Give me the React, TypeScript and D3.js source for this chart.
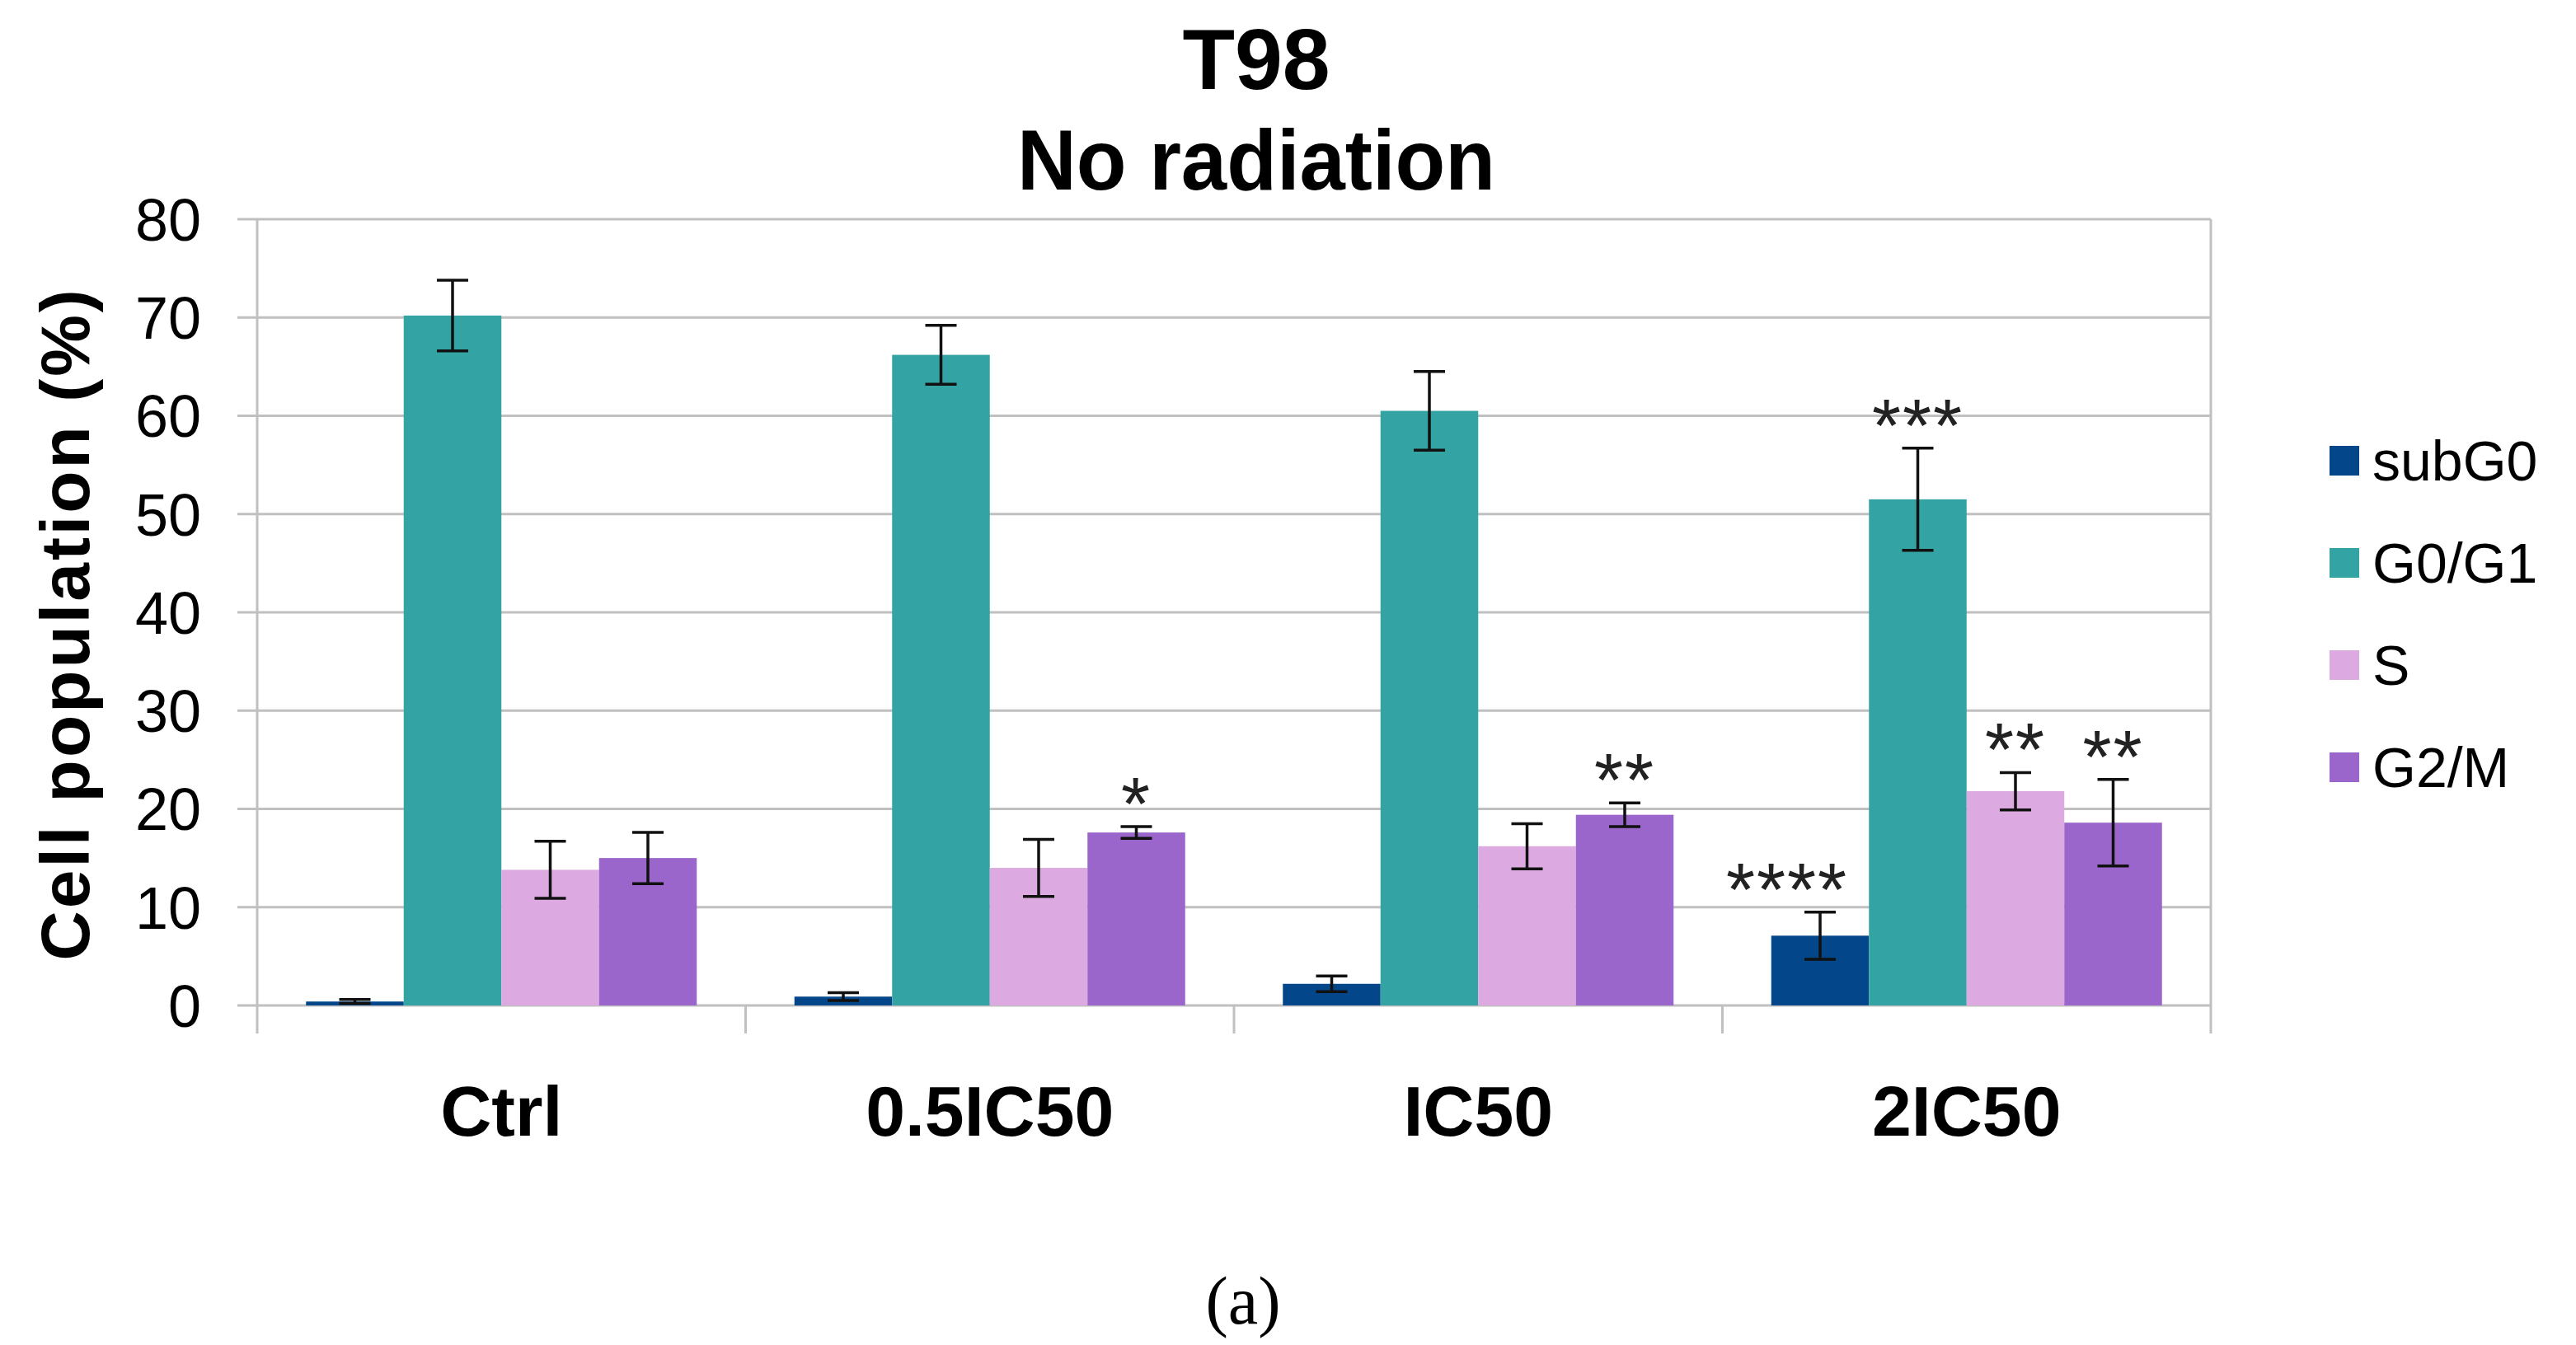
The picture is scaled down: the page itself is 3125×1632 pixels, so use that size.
import React, { useEffect, useRef } from 'react';
import * as d3 from 'd3';

// Cell-cycle distribution, T98, no radiation
const categories = ['Ctrl', '0.5IC50', 'IC50', '2IC50'];
const seriesNames = ['subG0', 'G0/G1', 'S', 'G2/M'];
const seriesColors = ['#03468a', '#33a3a3', '#dcaae0', '#9a66cb'];

const subG0 = [0.4, 0.9, 2.2, 7.1];
const subG0Err = [0.2, 0.4, 0.8, 2.4];
const g0g1 = [70.2, 66.2, 60.5, 51.5];
const g0g1Err = [3.6, 3.0, 4.0, 5.2];
const sPhase = [13.8, 14.0, 16.2, 21.8];
const sPhaseErr = [2.9, 2.9, 2.3, 1.9];
const g2m = [15.0, 17.6, 19.4, 18.6];
const g2mErr = [2.6, 0.6, 1.2, 4.4];

const subG0Stars = ['', '', '', '****'];
const g0g1Stars = ['', '', '', '***'];
const sPhaseStars = ['', '', '', '**'];
const g2mStars = ['', '*', '**', '**'];

const yTicks = [0, 10, 20, 30, 40, 50, 60, 70, 80];

const W = 3125;
const H = 1632;
const FONT = 'Liberation Sans, Arial, sans-serif';

const App: React.FC = () => {
    const svgRef = useRef<SVGSVGElement>(null);

    useEffect(() => {
        const values = [subG0, g0g1, sPhase, g2m];
        const errors = [subG0Err, g0g1Err, sPhaseErr, g2mErr];
        const stars = [subG0Stars, g0g1Stars, sPhaseStars, g2mStars];

        const svg = d3.select(svgRef.current);
        svg.selectAll('*').remove();

        const left = 312, right = 2682, top = 266, bottom = 1220;

        const x0 = d3.scaleBand<string>().domain(categories).range([left, right]).padding(0);
        const bw = x0.bandwidth();
        const x1 = d3.scaleBand<string>().domain(seriesNames).range([bw * 0.1, bw * 0.9]).padding(0);
        const y = d3.scaleLinear().domain([0, 80]).range([bottom, top]);

        const g = svg.append('g');

        // gridlines
        g.selectAll('line.grid')
            .data(yTicks)
            .enter()
            .append('line')
            .attr('x1', left - 24)
            .attr('x2', right)
            .attr('y1', d => y(d))
            .attr('y2', d => y(d))
            .attr('stroke', '#c0c0c0')
            .attr('stroke-width', 3);

        // vertical axis
        g.append('line')
            .attr('x1', left).attr('x2', left)
            .attr('y1', top).attr('y2', bottom + 34)
            .attr('stroke', '#c0c0c0').attr('stroke-width', 3);

        // category boundary ticks (last one doubles as right border)
        const bounds = categories.map(c => x0(c) as number).concat([right]);
        g.selectAll('line.ctick')
            .data(bounds.slice(1))
            .enter()
            .append('line')
            .attr('x1', d => d).attr('x2', d => d)
            .attr('y1', (d, i) => (i === bounds.length - 2 ? top : bottom))
            .attr('y2', bottom + 34)
            .attr('stroke', '#c0c0c0').attr('stroke-width', 3);

        // y tick labels
        g.selectAll('text.ytick')
            .data(yTicks)
            .enter()
            .append('text')
            .attr('x', 244)
            .attr('y', d => y(d))
            .attr('dy', '0.36em')
            .attr('text-anchor', 'end')
            .attr('font-family', FONT)
            .attr('font-size', 72)
            .attr('fill', '#000')
            .text(d => d);

        // bars, error bars, stars
        seriesNames.forEach((name, si) => {
            const sg = g.append('g');
            const bx = (i: number) => (x0(categories[i]) as number) + (x1(name) as number);
            const cx = (i: number) => bx(i) + x1.bandwidth() / 2;
            const starShift = si === 0 ? -40 : 0;

            sg.selectAll('rect')
                .data(values[si])
                .enter()
                .append('rect')
                .attr('x', (d, i) => bx(i))
                .attr('y', d => y(d))
                .attr('width', x1.bandwidth())
                .attr('height', d => y(0) - y(d))
                .attr('fill', seriesColors[si]);

            const eb = values[si].map((v, i) => ({ v, e: errors[si][i], i }));
            sg.selectAll('path.err')
                .data(eb)
                .enter()
                .append('path')
                .attr('d', d => {
                    const c = cx(d.i);
                    const t = y(d.v + d.e), b = y(d.v - d.e);
                    return `M${c},${t}V${b}M${c - 19},${t}H${c + 19}M${c - 19},${b}H${c + 19}`;
                })
                .attr('fill', 'none')
                .attr('stroke', '#111')
                .attr('stroke-width', 3.5);

            sg.selectAll('text.star')
                .data(eb.filter(d => stars[si][d.i] !== ''))
                .enter()
                .append('text')
                .attr('x', d => cx(d.i) + starShift)
                .attr('y', d => y(d.v + d.e) + 4)
                .attr('text-anchor', 'middle')
                .attr('font-family', FONT)
                .attr('font-size', 90)
                .attr('letter-spacing', 2)
                .attr('fill', '#222')
                .text(d => stars[si][d.i]);
        });

        // category labels
        g.selectAll('text.cat')
            .data(categories)
            .enter()
            .append('text')
            .attr('x', d => (x0(d) as number) + bw / 2)
            .attr('y', 1378)
            .attr('text-anchor', 'middle')
            .attr('font-family', FONT)
            .attr('font-weight', 'bold')
            .attr('font-size', 86)
            .attr('fill', '#000')
            .text(d => d);

        // y-axis title
        g.append('text')
            .attr('transform', `translate(108, ${(top + bottom) / 2 + 14}) rotate(-90)`)
            .attr('text-anchor', 'middle')
            .attr('font-family', FONT)
            .attr('font-weight', 'bold')
            .attr('font-size', 84)
            .attr('letter-spacing', 3)
            .attr('fill', '#000')
            .text('Cell population (%)');

        // title
        g.append('text')
            .attr('x', 1524).attr('y', 108)
            .attr('text-anchor', 'middle')
            .attr('font-family', FONT).attr('font-weight', 'bold').attr('font-size', 104)
            .text('T98');
        g.append('text')
            .attr('x', 1524).attr('y', 230)
            .attr('text-anchor', 'middle')
            .attr('font-family', FONT).attr('font-weight', 'bold').attr('font-size', 104)
            .attr('textLength', 580).attr('lengthAdjust', 'spacingAndGlyphs')
            .text('No radiation');

        // legend
        const lg = g.selectAll('g.legend')
            .data(seriesNames)
            .enter()
            .append('g')
            .attr('transform', (d, i) => `translate(2826, ${559 + i * 124})`);
        lg.append('rect')
            .attr('x', 0).attr('y', -18)
            .attr('width', 36).attr('height', 36)
            .attr('fill', (d, i) => seriesColors[i]);
        lg.append('text')
            .attr('x', 52).attr('y', 0).attr('dy', '0.36em')
            .attr('font-family', FONT).attr('font-size', 68)
            .attr('fill', '#000')
            .text(d => d);

        // panel label
        g.append('text')
            .attr('x', 1508).attr('y', 1606)
            .attr('text-anchor', 'middle')
            .attr('font-family', 'Liberation Serif, serif')
            .attr('font-size', 82)
            .text('(a)');
    }, []);

    return (
        <div style={{ position: 'absolute', left: 0, top: 0, background: '#fff' }}>
            <svg ref={svgRef} width={W} height={H} style={{ display: 'block' }}></svg>
        </div>
    );
};

export default App;
